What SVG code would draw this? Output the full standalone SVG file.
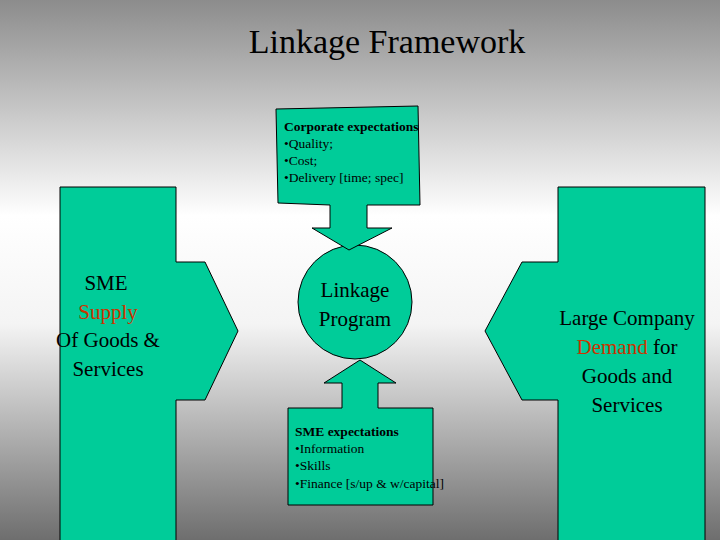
<svg xmlns="http://www.w3.org/2000/svg" width="720" height="540" viewBox="0 0 720 540">
<defs>
<linearGradient id="bg" x1="0" y1="0" x2="0" y2="1">
<stop offset="0" stop-color="#8c8c8c"/>
<stop offset="0.4" stop-color="#ffffff"/>
<stop offset="0.6" stop-color="#f4f4f4"/>
<stop offset="1" stop-color="#6e6e6e"/>
</linearGradient>
<style>
.s{fill:#00cc99;stroke:#000;stroke-width:1}
text,tspan{font-family:"Liberation Serif","Times New Roman",serif;fill:#000}
.r{fill:#cc3300}
</style>
</defs>
<rect width="720" height="540" fill="url(#bg)"/>
<text x="387" y="53" font-size="34" text-anchor="middle" font-family="Liberation Serif, serif">Linkage Framework</text>
<g id="sme">
<path class="s" d="M60,187 H176 V262 H205 L238,331 L205,400 H176 V545 H60 Z"/>
<text font-size="21" text-anchor="middle" font-family="Liberation Serif, serif"><tspan x="106" y="290">SME</tspan><tspan x="108" y="319" class="r">Supply</tspan><tspan x="108" y="347">Of Goods &amp;</tspan><tspan x="108" y="376">Services</tspan></text>
</g>
<g id="large">
<path class="s" d="M558,187 H705 V545 H558 V400 H522 L485,331 L522,262 H558 Z"/>
<text font-size="21" text-anchor="middle" font-family="Liberation Serif, serif"><tspan x="627" y="325">Large Company</tspan><tspan x="627" y="354"><tspan class="r">Demand</tspan> for</tspan><tspan x="627" y="383">Goods and</tspan><tspan x="627" y="412">Services</tspan></text>
</g>
<g id="linkage">
<ellipse class="s" cx="355" cy="302" rx="57" ry="57"/>
<text font-size="21" text-anchor="middle" font-family="Liberation Serif, serif"><tspan x="355" y="297">Linkage</tspan><tspan x="355" y="326">Program</tspan></text>
</g>
<g id="corporate">
<path class="s" d="M276,109 L418,106 L420,205 H367 V228 H392 L349,250 L312,228 H330 V205 L278,203 Z"/>
<text font-size="13.5" font-family="Liberation Serif, serif"><tspan x="284" y="131" font-weight="bold">Corporate expectations</tspan><tspan x="284" y="148">•Quality;</tspan><tspan x="284" y="165">•Cost;</tspan><tspan x="284" y="182">•Delivery [time; spec]</tspan></text>
</g>
<g id="smeexp">
<path class="s" d="M288,408 H342 V383 H324 L360,360 L396,383 H378 V408 H433 V505 H288 Z"/>
<text font-size="13.5" font-family="Liberation Serif, serif"><tspan x="295" y="436" font-weight="bold">SME expectations</tspan><tspan x="295" y="453">•Information</tspan><tspan x="295" y="470">•Skills</tspan><tspan x="295" y="488">•Finance [s/up &amp; w/capital]</tspan></text>
</g>
<g id="connectors"/>
</svg>
